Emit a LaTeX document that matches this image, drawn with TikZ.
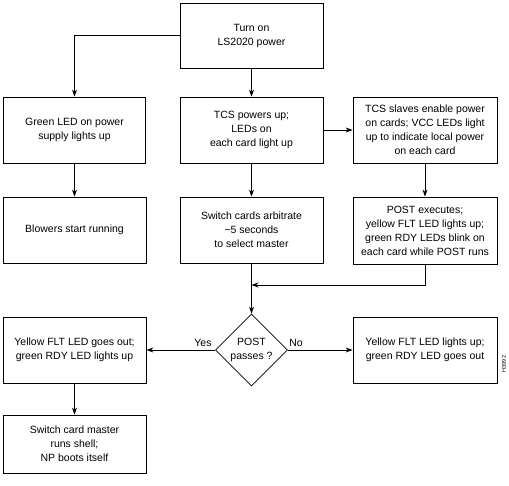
\documentclass[tikz,border=0pt]{standalone}
\usepackage{fontspec}
\setmainfont{Liberation Sans}
\usetikzlibrary{arrows.meta,shapes.geometric}
\begin{document}
\begin{tikzpicture}[x=1pt,y=-1pt,
  box/.style={draw, line width=0.8pt, align=center, font=\fontsize{10.5}{14}\selectfont, inner sep=0pt},
  arr/.style={-{Stealth[length=7pt,width=5pt]}, line width=0.8pt},
  lbl/.style={font=\fontsize{10.5}{13}\selectfont, inner sep=0pt}]
\useasboundingbox (0,0) rectangle (509,485);
\node[box, minimum width=143pt, minimum height=65pt] (top) at (251.5,35.5) {Turn on\\LS2020 power};
\node[box, minimum width=142pt, minimum height=66pt] (g) at (74.5,130) {Green LED on power\\supply lights up};
\node[box, minimum width=143pt, minimum height=66pt] (tcs) at (251.5,130) {TCS powers up;\\LEDs on\\each card light up};
\node[box, minimum width=144pt, minimum height=66pt] (slv) at (425,130) {TCS slaves enable power\\on cards; VCC LEDs light\\up to indicate local power\\on each card};
\node[box, minimum width=143pt, minimum height=66pt] (blow) at (74.5,230) {Blowers start running};
\node[box, minimum width=143pt, minimum height=66pt] (sw) at (251.5,230) {Switch cards arbitrate\\\textasciitilde5 seconds\\to select master};
\node[box, minimum width=144pt, minimum height=67pt] (post) at (425,230.5) {POST executes;\\yellow FLT LED lights up;\\green RDY LEDs blink on\\each card while POST runs};
\node[box, diamond, aspect=1, minimum width=72pt, minimum height=72pt] (d) at (251.5,350) {POST\\passes ?};
\node[box, minimum width=143pt, minimum height=66pt] (yflt) at (74.5,350) {Yellow FLT LED goes out;\\green RDY LED lights up};
\node[box, minimum width=144pt, minimum height=66pt] (yflt2) at (425,350) {Yellow FLT LED lights up;\\green RDY LED goes out};
\node[box, minimum width=143pt, minimum height=58pt] (master) at (74.5,444) {Switch card master\\runs shell;\\NP boots itself};
\node[lbl] (yes) at (203,343) {Yes};
\node[lbl] (no) at (296,343) {No};
\node[font=\fontsize{5.5}{6}\selectfont, rotate=90, inner sep=0pt] (id) at (504,364) {H3992};
\coordinate (j) at (251.5,285);
\draw[arr] (top.west) -| (g.north);
\draw[arr] (top.south) -- (tcs.north);
\draw[arr] (tcs.east) -- (slv.west);
\draw[arr] (g.south) -- (blow.north);
\draw[arr] (tcs.south) -- (sw.north);
\draw[arr] (slv.south) -- (post.north);
\draw[arr] (post.south) |- (j);
\draw[arr] (sw.south) -- (d.north);
\draw[arr] (d.west) -- (yflt.east);
\draw[arr] (d.east) -- (yflt2.west);
\draw[arr] (yflt.south) -- (master.north);
\end{tikzpicture}
\end{document}
